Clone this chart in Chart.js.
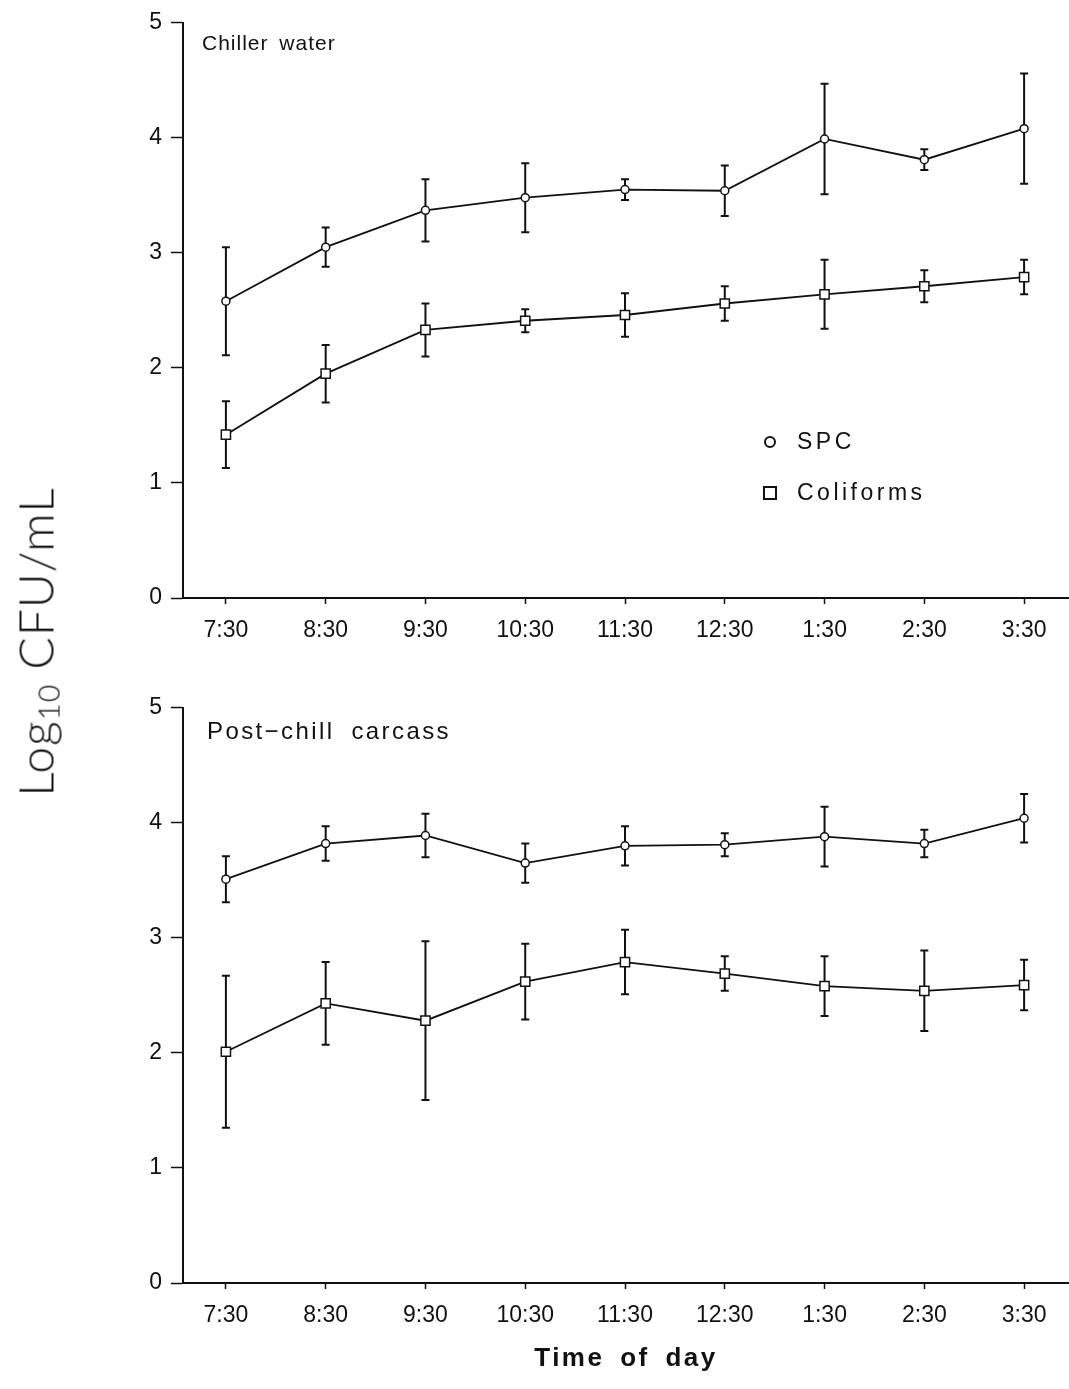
<!DOCTYPE html>
<html>
<head>
<meta charset="utf-8">
<script src="https://cdn.jsdelivr.net/npm/chart.js@4.4.0/dist/chart.umd.min.js"></script>
<style>
  body { margin: 0; background: #fff; width: 1069px; height: 1389px; position: relative; overflow: hidden; font-family: "Liberation Sans", Arial, sans-serif; color: #111; }
  .panel { position: absolute; left: 0; width: 1069px; height: 665px; }
  #topPanel { top: 0; }
  #bottomPanel { top: 685px; }
  #yTitle { position: absolute; left: 36px; top: 642px; transform: translate(-50%, -50%) rotate(-90deg); white-space: nowrap; font-family: "Lato", "Liberation Sans", sans-serif; font-weight: 300; font-size: 48px; letter-spacing: 1px; }
  #yTitle sub { font-size: 30px; vertical-align: -6px; }
  #xTitle { position: absolute; left: 0; width: 1252px; top: 1342px; text-align: center; font-weight: bold; font-size: 26px; line-height: 30px; letter-spacing: 2.5px; word-spacing: 6px; }
</style>
</head>
<body>
<div class="panel" id="topPanel"><canvas id="chillerChart" width="1069" height="665"></canvas></div>
<div class="panel" id="bottomPanel"><canvas id="carcassChart" width="1069" height="665"></canvas></div>
<div id="yTitle">Log<sub>10</sub> CFU/mL</div>
<div id="xTitle">Time of day</div>
<script>
const times = ['7:30', '8:30', '9:30', '10:30', '11:30', '12:30', '1:30', '2:30', '3:30'];

// chiller water, log10 CFU/mL (mean and error)
const waterSpc = [2.58, 3.05, 3.37, 3.48, 3.55, 3.54, 3.99, 3.81, 4.08];
const waterSpcErr = [0.47, 0.17, 0.27, 0.30, 0.09, 0.22, 0.48, 0.09, 0.48];
const waterColi = [1.42, 1.95, 2.33, 2.41, 2.46, 2.56, 2.64, 2.71, 2.79];
const waterColiErr = [0.29, 0.25, 0.23, 0.10, 0.19, 0.15, 0.30, 0.14, 0.15];

// post-chill carcass
const carcassSpc = [3.51, 3.82, 3.89, 3.65, 3.80, 3.81, 3.88, 3.82, 4.04];
const carcassSpcErr = [0.20, 0.15, 0.19, 0.17, 0.17, 0.10, 0.26, 0.12, 0.21];
const carcassColi = [2.01, 2.43, 2.28, 2.62, 2.79, 2.69, 2.58, 2.54, 2.59];
const carcassColiErr = [0.66, 0.36, 0.69, 0.33, 0.28, 0.15, 0.26, 0.35, 0.22];

const INK = '#111';
const FONT = '"Liberation Sans", Arial, sans-serif';

// vertical error bars with caps, drawn under the markers
const errorBars = {
    id: 'errorBars',
    beforeDatasetsDraw(chart) {
        const ctx = chart.ctx;
        const y = chart.scales.y;
        ctx.save();
        ctx.strokeStyle = INK;
        ctx.lineWidth = 2;
        chart.data.datasets.forEach((ds, i) => {
            chart.getDatasetMeta(i).data.forEach((pt, j) => {
                const v = ds.data[j].y;
                const e = ds.errors[j];
                const top = y.getPixelForValue(v + e);
                const bot = y.getPixelForValue(v - e);
                ctx.beginPath();
                ctx.moveTo(pt.x, top); ctx.lineTo(pt.x, bot);
                ctx.moveTo(pt.x - 4, top); ctx.lineTo(pt.x + 4, top);
                ctx.moveTo(pt.x - 4, bot); ctx.lineTo(pt.x + 4, bot);
                ctx.stroke();
            });
        });
        ctx.restore();
    }
};

// panel caption in the upper left of the plot
const panelLabel = {
    id: 'panelLabel',
    afterDraw(chart, args, opts) {
        const ctx = chart.ctx;
        ctx.save();
        ctx.font = opts.size + 'px ' + FONT;
        ctx.fillStyle = INK;
        ctx.letterSpacing = opts.spacing + 'px';
        ctx.wordSpacing = opts.wordSpacing + 'px';
        ctx.textBaseline = 'alphabetic';
        ctx.fillText(opts.text, chart.chartArea.left + opts.dx, chart.chartArea.top + opts.dy);
        ctx.restore();
    }
};

// marker key built from the datasets' own point styles
const markerKey = {
    id: 'markerKey',
    afterDraw(chart, args, opts) {
        if (!opts.show) return;
        const ctx = chart.ctx;
        ctx.save();
        ctx.font = '23px ' + FONT;
        ctx.letterSpacing = '3.5px';
        ctx.textBaseline = 'middle';
        chart.data.datasets.forEach((ds, i) => {
            const cx = opts.x;
            const cy = opts.y + i * opts.gap;
            ctx.strokeStyle = INK;
            ctx.fillStyle = '#fff';
            ctx.lineWidth = 2;
            Chart.helpers.drawPoint(ctx, { pointStyle: ds.pointStyle, radius: ds.pointStyle === 'rect' ? 8.5 : 5, borderWidth: 2 }, cx, cy);
            ctx.fillStyle = INK;
            ctx.fillText(ds.label, cx + 27, cy + 1);
        });
        ctx.restore();
    }
};

function series(label, values, errors, style) {
    return {
        label: label,
        data: values.map((v, i) => ({ x: i, y: v })),
        errors: errors,
        borderColor: INK,
        borderWidth: 1.8,
        pointStyle: style,
        pointRadius: style === 'rect' ? 6.5 : 4,
        pointBackgroundColor: '#fff',
        pointBorderColor: INK,
        pointBorderWidth: 1.5,
        tension: 0
    };
}

function renderPanel(canvasId, caption, spc, spcErr, coli, coliErr, showKey) {
    const ctx = document.getElementById(canvasId).getContext('2d');
    new Chart(ctx, {
        type: 'line',
        data: {
            datasets: [
                series('SPC', spc, spcErr, 'circle'),
                series('Coliforms', coli, coliErr, 'rect')
            ]
        },
        plugins: [errorBars, panelLabel, markerKey],
        options: {
            responsive: false,
            animation: false,
            devicePixelRatio: 1,
            // no automatic room for the markers: the x axis runs to the right edge
            layout: { autoPadding: false, padding: { top: 20, right: 0, left: 0, bottom: 0 } },
            scales: {
                x: {
                    type: 'linear',
                    min: -0.43,
                    max: 8.45,
                    afterBuildTicks: s => { s.ticks = times.map((t, i) => ({ value: i })); },
                    afterFit: s => { s.height = 67; s.paddingLeft = 0; s.paddingRight = 0; },
                    border: { display: true, color: INK, width: 2 },
                    grid: { display: true, drawOnChartArea: false, drawTicks: true, tickLength: 6, color: INK, tickWidth: 1.5 },
                    ticks: {
                        padding: 13,
                        color: INK,
                        font: { family: FONT, size: 23 },
                        maxRotation: 0,
                        autoSkip: false,
                        callback: v => times[v]
                    }
                },
                y: {
                    min: 0,
                    max: 5,
                    afterFit: s => { s.width = 183; },
                    border: { display: true, color: INK, width: 2 },
                    grid: { display: true, drawOnChartArea: false, drawTicks: true, tickLength: 12, color: INK, tickWidth: 1.5 },
                    ticks: {
                        stepSize: 1,
                        padding: 9,
                        color: INK,
                        font: { family: FONT, size: 23 }
                    }
                }
            },
            plugins: {
                legend: { display: false },
                tooltip: { enabled: false },
                panelLabel: caption,
                markerKey: { show: showKey, x: 770, y: 442, gap: 51 }
            }
        }
    });
}

renderPanel('chillerChart', { text: 'Chiller water', size: 21, spacing: 1, wordSpacing: 4, dx: 19, dy: 27 },
    waterSpc, waterSpcErr, waterColi, waterColiErr, true);
renderPanel('carcassChart', { text: 'Post\u2212chill carcass', size: 24, spacing: 2.4, wordSpacing: 8, dx: 24, dy: 31 },
    carcassSpc, carcassSpcErr, carcassColi, carcassColiErr, false);
</script>
</body>
</html>
